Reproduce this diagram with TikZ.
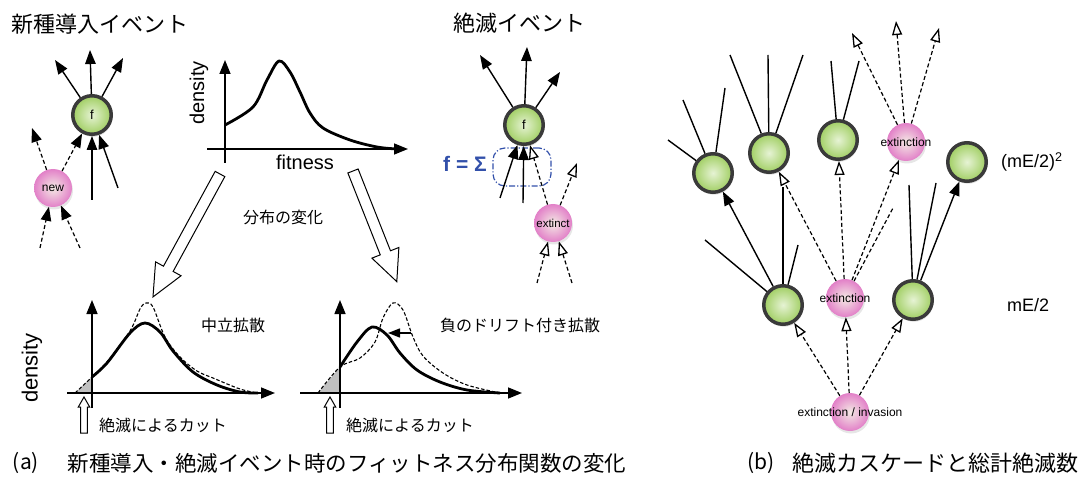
\documentclass[tikz,border=0pt]{standalone}
\usepackage{fontspec}
\setmainfont{Liberation Sans}
\newfontfamily\jp{Noto Sans CJK JP}
\usetikzlibrary{arrows.meta,shadows}
\definecolor{gin}{RGB}{230,243,212}
\definecolor{gout}{RGB}{160,206,98}
\definecolor{pin}{RGB}{244,234,228}
\definecolor{pout}{RGB}{226,128,200}
\definecolor{ring}{RGB}{58,58,58}
\definecolor{sumblue}{RGB}{50,80,170}
\definecolor{cutgray}{RGB}{192,192,192}
\begin{document}
\begin{tikzpicture}[x=1pt,y=-1pt,
  gnode/.style={circle, draw=ring, line width=3.5pt, inner color=gin, outer color=gout,
    minimum size=38.5pt, inner sep=0pt, font=\fontsize{13}{13}\selectfont,
    drop shadow={opacity=0.25, shadow xshift=1pt, shadow yshift=-2.5pt}},
  pnode/.style={circle, inner color=pin, outer color=pout, minimum size=38pt, inner sep=0pt,
    drop shadow={opacity=0.2, shadow xshift=1pt, shadow yshift=-2.5pt}},
  plbl/.style={font=\fontsize{12}{12}\selectfont, inner sep=0pt},
  sln/.style={line width=1.4pt},
  dln/.style={line width=1.2pt, dash pattern=on 4pt off 2.5pt},
  arr/.style={sln, -{Triangle[length=14pt,width=10.5pt]}},
  darr/.style={dln, -{Triangle[length=14pt,width=10.5pt]}},
  oarr/.style={dln, -{Triangle[open,length=14pt,width=10pt,line width=1.3pt]}},
  axis/.style={line width=1.5pt, -{Triangle[length=14pt,width=11pt]}},
  curve/.style={line width=2.8pt, line join=round},
  dcurve/.style={line width=1.1pt, dash pattern=on 3.5pt off 2pt},
  jtxt/.style={font=\fontsize{16}{18}\selectfont\jp, inner sep=0pt},
  bighollow/.style={line width=1pt, fill=white, line join=miter}
]
\useasboundingbox (0,0) rectangle (1089,478);

% ---------- titles ----------
\node[font=\fontsize{22}{24}\selectfont\jp, inner sep=0pt] (t1) at (100,24) {新種導入イベント};
\node[font=\fontsize{22}{24}\selectfont\jp, inner sep=0pt] (t2) at (519,23) {絶滅イベント};

% ---------- left event ----------
\node[gnode] (fL) at (92,115) {f};
\node[pnode] (new) at (53,188) {};
\node[plbl] at (new) {new};
\coordinate (fL1) at (55,60);
\coordinate (fL2) at (90,50);
\coordinate (fL3) at (123,58);
\coordinate (inL1) at (92,200);
\coordinate (inL2) at (118,188);
\coordinate (nw1) at (32,128);
\coordinate (nin1) at (40,248);
\coordinate (nin2) at (80,248);
\draw[arr] (fL) -- (fL1);
\draw[arr] (fL) -- (fL2);
\draw[arr] (fL) -- (fL3);
\draw[arr] (inL1) -- (fL);
\draw[arr] (inL2) -- (fL);
\draw[darr] (new) -- (fL);
\draw[darr] (new) -- (nw1);
\draw[darr] (nin1) -- (new);
\draw[darr] (nin2) -- (new);

% ---------- right event ----------
\node[draw=sumblue, dash pattern=on 6pt off 2pt on 1.2pt off 2pt, line width=1.2pt,
  rounded corners=12pt, minimum width=58pt, minimum height=38pt] (sum) at (522,167) {};
\node[text=sumblue, font=\fontsize{21}{21}\selectfont\bfseries, inner sep=0pt] (sumlbl) at (465,164) {f = Σ};
\node[gnode] (fR) at (524,125) {f};
\node[pnode] (ext) at (553,223) {};
\node[plbl, font=\fontsize{11.5}{12}\selectfont] at (ext) {extinct};
\coordinate (fR1) at (480,55);
\coordinate (fR2) at (527,47);
\coordinate (fR3) at (560,72);
\coordinate (inR1) at (500,198);
\coordinate (inR2) at (523,203);
\coordinate (ex1) at (577,163);
\coordinate (exin1) at (537,283);
\coordinate (exin2) at (572,283);
\draw[arr] (fR) -- (fR1);
\draw[arr] (fR) -- (fR2);
\draw[arr] (fR) -- (fR3);
\draw[arr] (inR1) -- (fR);
\draw[arr] (inR2) -- (fR);
\draw[oarr] (ext) -- (fR);
\draw[oarr] (ext) -- (ex1);
\draw[oarr] (exin1) -- (ext);
\draw[oarr] (exin2) -- (ext);

% ---------- top density plot ----------
\draw[axis] (225,163) -- (225,60);
\draw[axis] (207,149) -- (408,149);
\draw[curve] plot[smooth, tension=0.55] coordinates {(225,125) (253,107) (267,80) (279,61) (290,72) (300,92) (310,113) (323,128) (350,140) (377,147) (397,149)};
\node[rotate=90, font=\fontsize{20}{20}\selectfont, inner sep=0pt] (dens1) at (199,93) {density};
\node[font=\fontsize{20}{20}\selectfont, inner sep=0pt] (fit) at (305,162) {fitness};

% ---------- big hollow arrows ----------
\begin{scope}[shift={(220,174)}, rotate=241.4]
  \draw[bighollow] (0,-5.5) -- (108,-5.5) -- (108,-14.5) -- (140,0) -- (108,14.5) -- (108,5.5) -- (0,5.5) -- cycle;
\end{scope}
\begin{scope}[shift={(353,171)}, rotate=-68.4]
  \draw[bighollow] (0,-5.5) -- (88,-5.5) -- (88,-14.5) -- (119,0) -- (88,14.5) -- (88,5.5) -- (0,5.5) -- cycle;
\end{scope}
\node[jtxt] (bunpu) at (283,217) {分布の変化};

% ---------- bottom-left plot ----------
\fill[cutgray] (75,393) -- (92,377) -- (92,393) -- cycle;
\draw[axis] (92,408) -- (92,300);
\draw[axis] (67,393) -- (275,393);
\draw[dcurve] plot[smooth, tension=0.55] coordinates {(75,393) (92,377) (107,362) (130,331) (140,309) (146,303) (153,307) (165,337) (180,357) (197,371) (213,378) (240,389) (258,393)};
\draw[curve] plot[smooth, tension=0.55] coordinates {(92,377) (107,363) (130,333) (145,323) (160,332) (173,351) (193,372) (217,385) (240,392) (258,393)};
\node[rotate=90, font=\fontsize{22}{22}\selectfont, inner sep=0pt] (dens2) at (32,368) {density};
\node[jtxt] (neutral) at (233,325) {中立拡散};
\draw[line width=1pt, fill=white] (80.7,433) -- (80.7,407) -- (78.3,407) -- (84,397) -- (89.7,407) -- (87.3,407) -- (87.3,433) -- cycle;
\node[jtxt] (cut1) at (163,425) {絶滅によるカット};

% ---------- bottom-right plot ----------
\fill[cutgray] (318,393) -- (340,367) -- (340,393) -- cycle;
\draw[axis] (340,408) -- (340,300);
\draw[axis] (300,393) -- (522,393);
\draw[dcurve] plot[smooth, tension=0.55] coordinates {(318,393) (340,367) (360,358) (375,342) (383,318) (393,303) (403,310) (413,337) (423,356) (443,373) (467,385) (500,393)};
\draw[curve] plot[smooth, tension=0.55] coordinates {(340,367) (357,342) (372,327) (387,335) (400,353) (417,370) (440,382) (467,390) (500,393)};
\coordinate (drA) at (411,333);
\coordinate (drB) at (388,333);
\draw[sln, -{Triangle[length=12pt,width=9pt]}] (drA) -- (drB);
\node[jtxt] (drift) at (520,325) {負のドリフト付き拡散};
\draw[line width=1pt, fill=white] (326.7,433) -- (326.7,407) -- (324.3,407) -- (330,397) -- (335.7,407) -- (333.3,407) -- (333.3,433) -- cycle;
\node[jtxt] (cut2) at (410,425) {絶滅によるカット};

% ---------- panel (b) ----------
\node[gnode] (G1) at (713,173) {};
\node[gnode] (G2) at (769,153) {};
\node[gnode] (G3) at (838,140) {};
\node[pnode] (E1) at (906,142) {};
\node[plbl] at (E1) {extinction};
\node[gnode] (G4) at (967,162) {};
\node[gnode] (G5) at (783,305) {};
\node[pnode] (E2) at (845,298) {};
\node[plbl] at (E2) {extinction};
\node[gnode] (G6) at (913,300) {};
\node[pnode] (E3) at (850,412) {};
\node[plbl] at (E3) {extinction / invasion};

\coordinate (g1a) at (668,140);
\coordinate (g1b) at (683,100);
\coordinate (g1c) at (725,88);
\coordinate (g2a) at (730,55);
\coordinate (g2b) at (768,55);
\coordinate (g2c) at (803,55);
\coordinate (g3a) at (831,61);
\coordinate (g3b) at (859,61);
\coordinate (e1a) at (852,33);
\coordinate (e1b) at (896,21);
\coordinate (e1c) at (939,28);
\coordinate (g5a) at (705,240);
\coordinate (g5b) at (783,187);
\coordinate (g5c) at (798,245);
\coordinate (e2a) at (893,208);
\coordinate (g6a) at (909,185);
\coordinate (g6b) at (936,183);

\draw[sln] (G1) -- (g1a);
\draw[sln] (G1) -- (g1b);
\draw[sln] (G1) -- (g1c);
\draw[sln] (G2) -- (g2a);
\draw[sln] (G2) -- (g2b);
\draw[sln] (G2) -- (g2c);
\draw[sln] (G3) -- (g3a);
\draw[sln] (G3) -- (g3b);
\draw[oarr] (E1) -- (e1a);
\draw[oarr] (E1) -- (e1b);
\draw[oarr] (E1) -- (e1c);
\draw[sln] (G5) -- (g5a);
\draw[sln] (G5) -- (g5b);
\draw[sln] (G5) -- (g5c);
\draw[arr] (G5) -- (G1);
\draw[oarr] (E2) -- (G2);
\draw[oarr] (E2) -- (G3);
\draw[oarr] (E2) -- (E1);
\draw[dln] (E2) -- (e2a);
\draw[sln] (G6) -- (g6a);
\draw[sln] (G6) -- (g6b);
\draw[arr] (G6) -- (G4);
\draw[oarr] (E3) -- (G5);
\draw[oarr] (E3) -- (E2);
\draw[oarr] (E3) -- (G6);

\node[font=\fontsize{18}{18}\selectfont, anchor=west, inner sep=0pt] (lv2) at (1001,162) {(mE/2)\textsuperscript{2}};
\node[font=\fontsize{18}{18}\selectfont, inner sep=0pt] (lv1) at (1028,305) {mE/2};

% ---------- captions ----------
\node[font=\fontsize{21}{22}\selectfont\jp, inner sep=0pt] (capa) at (26,463) {(a)};
\node[font=\fontsize{21.5}{22}\selectfont\jp, inner sep=0pt] (capat) at (347,463) {新種導入・絶滅イベント時のフィットネス分布関数の変化};
\node[font=\fontsize{21}{22}\selectfont\jp, inner sep=0pt] (capb) at (761,463) {(b)};
\node[font=\fontsize{22}{22}\selectfont\jp, inner sep=0pt] (capbt) at (935,463) {絶滅カスケードと総計絶滅数};
\end{tikzpicture}
\end{document}
